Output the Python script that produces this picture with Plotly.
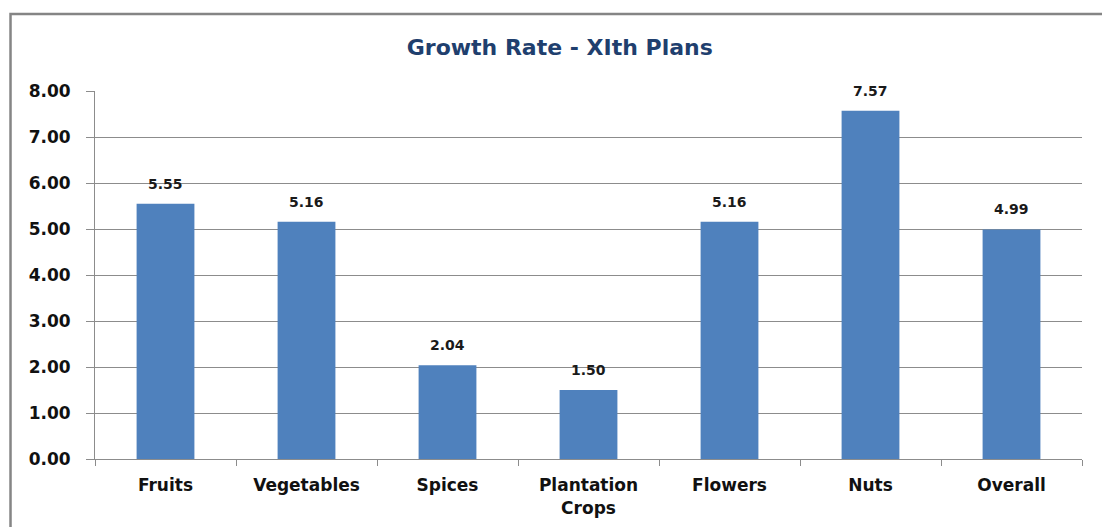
import plotly.graph_objects as go

categories = ["Fruits", "Vegetables", "Spices", "Plantation<br>Crops", "Flowers", "Nuts", "Overall"]
growth_rate = [5.55, 5.16, 2.04, 1.50, 5.16, 7.57, 4.99]
y_ticks = [0, 1, 2, 3, 4, 5, 6, 7, 8]

BAR = "#4F81BD"
GRID = "#8C8C8C"
FONT = "DejaVu Sans"

fig = go.Figure(go.Bar(
    x=categories, y=growth_rate,
    marker=dict(color=BAR, line=dict(width=0)),
    width=0.41,
    hoverinfo="x+y",
))

# value labels above each bar
for c, v in zip(categories, growth_rate):
    fig.add_annotation(x=c, y=v, text=f"<b>{v:.2f}</b>", showarrow=False,
                       yshift=20, font=dict(family=FONT, size=14, color="#1a1a1a"))

# chart border
fig.add_shape(type="rect", xref="paper", yref="paper",
              x0=-0.0856, y0=-0.35, x1=1.2, y1=1.2092,
              line=dict(color="#858585", width=2.5), layer="below")

fig.update_layout(
    width=1102, height=527,
    margin=dict(l=95, r=20, t=91, b=68),
    paper_bgcolor="white", plot_bgcolor="white",
    showlegend=False,
    title=dict(text="<b>Growth Rate - XIth Plans</b>", x=0.508, xanchor="center",
               y=1 - 47 / 527, yanchor="middle",
               font=dict(family=FONT, size=22, color="#1F3F6E")),
    font=dict(family=FONT, color="#111111"),
)
fig.update_xaxes(
    showline=True, linecolor=GRID, linewidth=1,
    ticks="outside", tickson="boundaries", ticklen=6, tickcolor=GRID,
    tickfont=dict(family=FONT, size=17, color="#111111"),
    ticklabelstandoff=11, automargin=False,
    showgrid=False, fixedrange=True,
)
fig.update_yaxes(
    range=[0, 8], tickvals=y_ticks, tickformat=".2f",
    showline=True, linecolor=GRID, linewidth=1,
    ticks="outside", ticklen=8, tickcolor=GRID,
    showgrid=True, gridcolor=GRID, gridwidth=1,
    zeroline=False,
    tickfont=dict(family=FONT, size=17, color="#111111"),
    ticklabelstandoff=12, automargin=False,
    fixedrange=True,
)
# bold tick labels
fig.update_xaxes(ticktext=[f"<b>{c}</b>" for c in categories], tickvals=categories)
fig.update_yaxes(ticktext=[f"<b>{t:.2f}</b>" for t in y_ticks])

fig.write_html("out.html")
